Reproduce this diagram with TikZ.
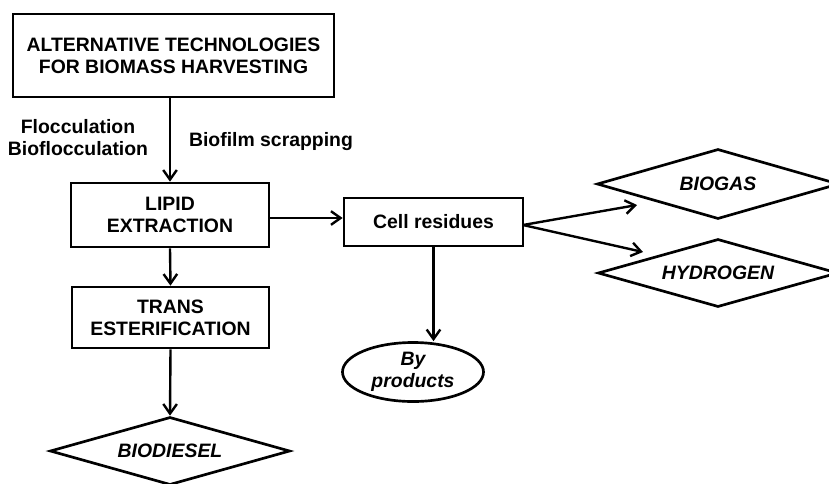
\documentclass[tikz,border=0pt]{standalone}
\usepackage{fontspec}
\setmainfont{Liberation Sans}
\usepackage{tikz}
\usetikzlibrary{
    positioning,
    arrows.meta,
    shapes.geometric
}

\begin{document}
\begin{tikzpicture}[
    x=0.025cm, y=-0.025cm,
    font=\fontsize{13.8}{15.6}\selectfont\bfseries,
    stage/.style={
        rectangle,
        draw,
        line width=1.9pt,
        align=center,
        inner sep=0pt
    },
    product/.style={
        diamond,
        draw,
        line width=1.9pt,
        aspect=3.5,
        inner sep=0pt,
        minimum width=6cm,
        minimum height=1.7cm,
        font=\fontsize{13.8}{15.6}\selectfont\bfseries\itshape
    },
    arrow/.style={-{Straight Barb[length=2.4mm,width=3.4mm]}, line width=1.7pt}
]

\useasboundingbox (0,0) rectangle (829,483);

\node[stage, minimum width=8.025cm, minimum height=2.075cm] (harvest) at (173.5,55.5)
    {ALTERNATIVE TECHNOLOGIES\\FOR BIOMASS HARVESTING};

\node[stage, minimum width=4.95cm, minimum height=1.6cm] (lipid) at (170,215)
    {LIPID\\EXTRACTION};

\node[stage, minimum width=4.925cm, minimum height=1.525cm] (trans) at (170.5,317.5)
    {TRANS\\ESTERIFICATION};

\node[stage, minimum width=4.475cm, minimum height=1.2cm] (cell) at (433.5,222)
    {Cell residues};

\node[product] (biodiesel) at (170,451) {BIODIESEL};
\node[product, minimum width=6.05cm, minimum height=1.75cm] (biogas) at (718,184) {BIOGAS};
\node[product] (hydrogen) at (718,273) {HYDROGEN};

\node[ellipse, draw, line width=1.9pt, inner sep=0pt, align=center,
      minimum width=3.525cm, minimum height=1.475cm,
      font=\fontsize{13.8}{15.6}\selectfont\bfseries\itshape] (byprod) at (413,372)
    {By\\products};

\node[align=center] (flocc) at (78,138) {Flocculation\\Bioflocculation};
\node (biofilm) at (271,142) {Biofilm scrapping};

\coordinate (celltip) at (523,225);
\coordinate (gastip) at (637,205);
\coordinate (h2tip) at (643,252);

\draw[arrow] (lipid |- harvest.south) -- (lipid.north);
\draw[arrow] (lipid.east |- 0,218) -- (cell.west |- 0,218);
\draw[arrow] (lipid.south) -- (trans.north);
\draw[arrow] (trans.south) -- (biodiesel.north);
\draw[arrow] (celltip) -- (gastip);
\draw[arrow] (celltip) -- (h2tip);
\draw[arrow] (cell.south) -- (cell |- byprod.north);

\end{tikzpicture}
\end{document}
